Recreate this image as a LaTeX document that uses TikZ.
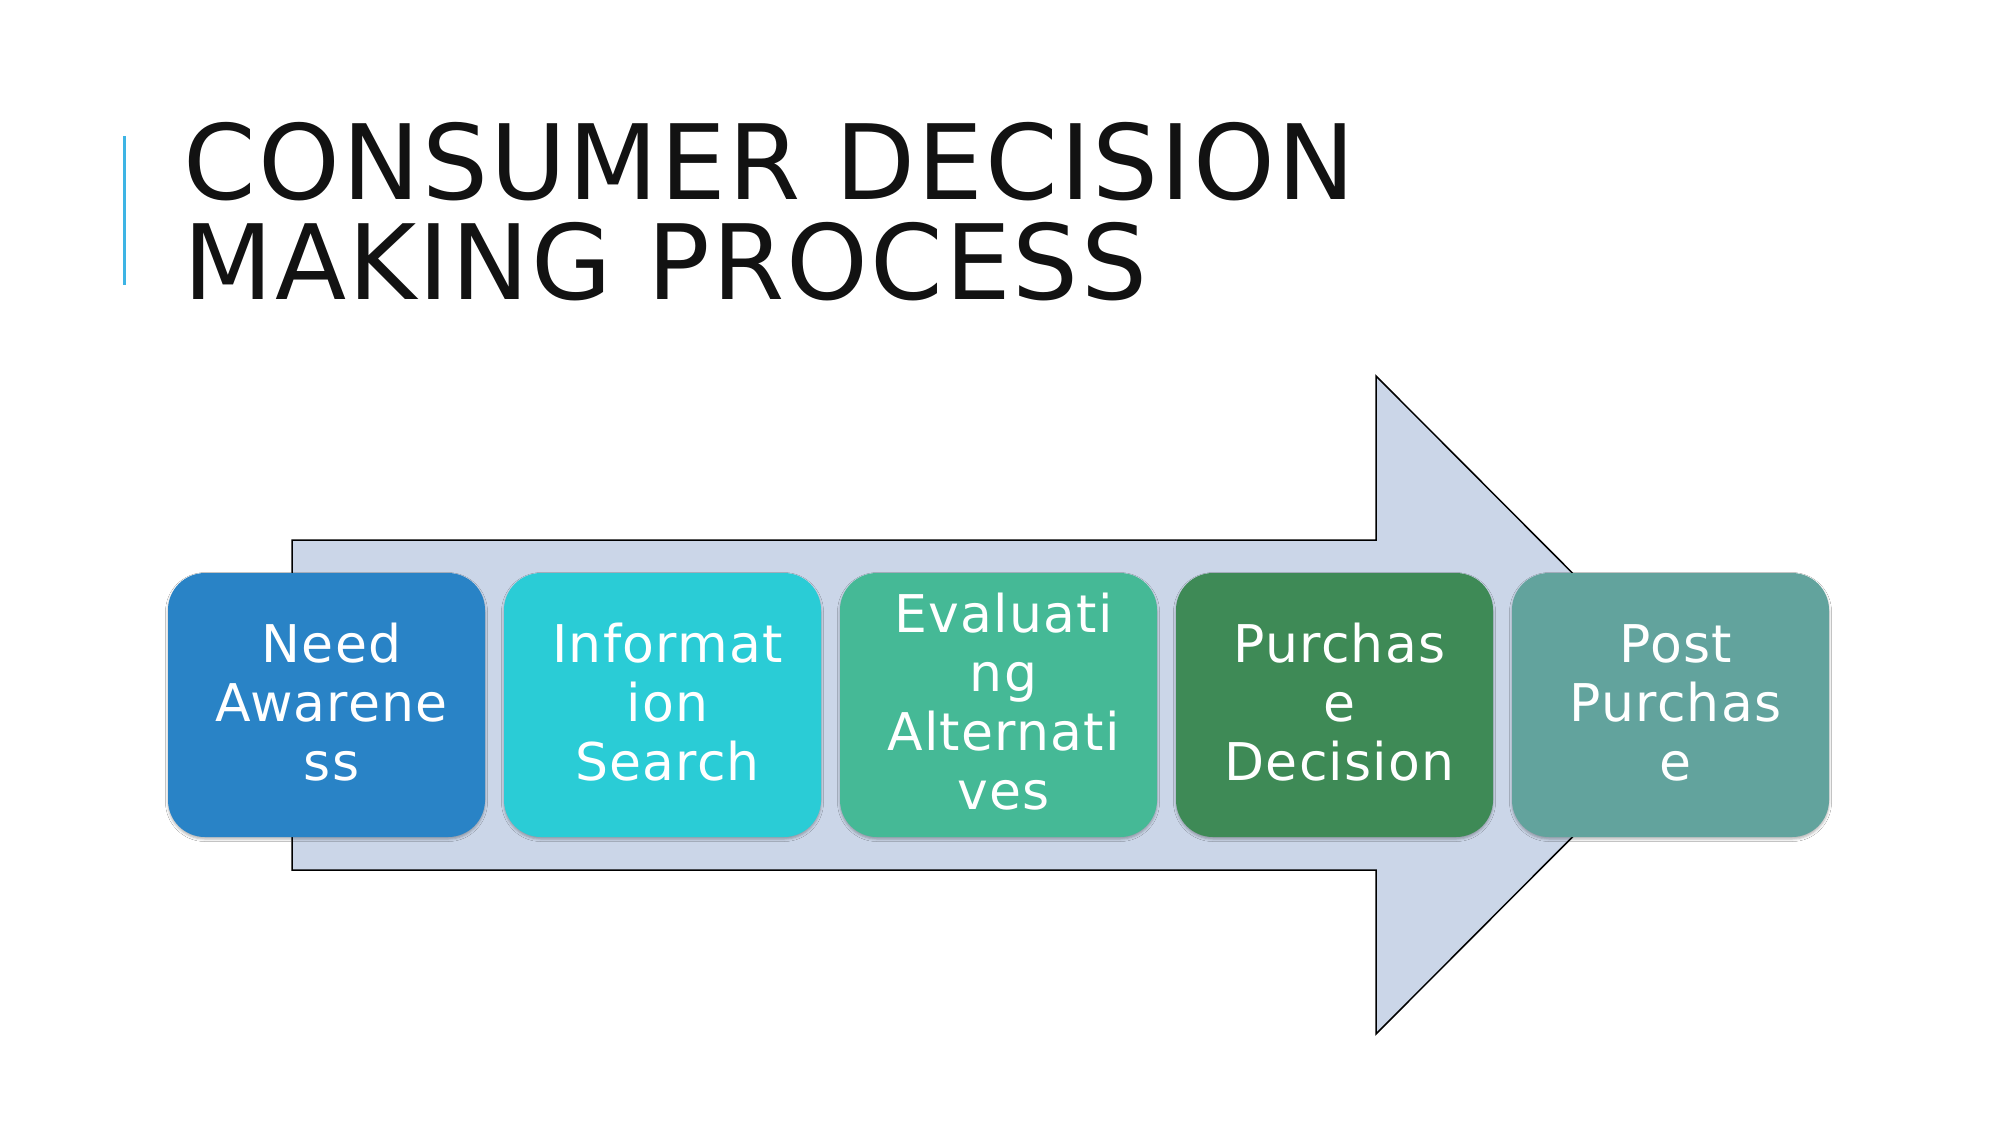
\documentclass[tikz,border=0pt]{standalone}
\usepackage{fontspec}
\setmainfont{DejaVu Sans}
\newfontfamily\titlefont[LetterSpace=2.0]{DejaVu Sans}
\newfontfamily\stagefont[LetterSpace=2.3]{DejaVu Sans}
\usetikzlibrary{shadows.blur}
\definecolor{arrowfill}{RGB}{203,214,232}
\definecolor{titlecol}{RGB}{18,18,18}
\definecolor{barcol}{RGB}{62,180,228}
\definecolor{cA}{RGB}{41,131,198}
\definecolor{cB}{RGB}{42,204,214}
\definecolor{cC}{RGB}{69,185,150}
\definecolor{cD}{RGB}{62,138,86}
\definecolor{cE}{RGB}{98,163,157}
\tikzset{
  bigarrow/.style={fill=arrowfill, draw=black, line width=1.5pt, line join=miter},
  stagebox/.style={rectangle, rounded corners=37pt, minimum width=317pt, minimum height=264pt,
    inner sep=0pt, draw=none,
    blur shadow={shadow xshift=0pt, shadow yshift=-2pt, shadow blur radius=2.5pt, shadow opacity=30}},
  stagetext/.style={inner sep=0pt, align=center, text=white,
    font=\stagefont\fontsize{52}{59}\selectfont},
  titletext/.style={inner sep=0pt, anchor=north west, align=left, text=titlecol,
    font=\titlefont\fontsize{104}{100}\selectfont},
  titlebar/.style={draw=barcol, line width=2.7pt}
}
\newcommand{\topstrut}{\rule{0pt}{44pt}}
\newcommand{\botstrut}{\rule[-12pt]{0pt}{12pt}}
\begin{document}
\begin{tikzpicture}[x=1pt,y=-1pt]
\useasboundingbox[fill=white] (0,0) rectangle (2001,1125);
% title
\draw[titlebar] (124.5,136) -- (124.5,285);
\node[titletext] (title) at (183.5,119) {\rule{0pt}{80pt}CONSUMER DECISION\\MAKING PROCESS};
% big arrow
\draw[bigarrow] (292,540) -- (1376,540) -- (1376,376) -- (1704,705) -- (1376,1034) -- (1376,870) -- (292,870) -- cycle;
% stages
\node[stagebox, fill=cA] (b1) at (326.5,705) {};
\node[stagebox, fill=cB] (b2) at (662.5,705) {};
\node[stagebox, fill=cC] (b3) at (998.5,705) {};
\node[stagebox, fill=cD] (b4) at (1334.5,705) {};
\node[stagebox, fill=cE] (b5) at (1670.5,705) {};
\node[stagetext] (t1) at ([xshift=5pt]b1.center) {\topstrut Need\\Awarene\\ss\botstrut};
\node[stagetext] (t2) at ([xshift=5pt]b2.center) {\topstrut Informat\\ion\\Search\botstrut};
\node[stagetext] (t3) at ([xshift=5pt]b3.center) {\topstrut Evaluati\\ng\\Alternati\\ves\botstrut};
\node[stagetext] (t4) at ([xshift=5pt]b4.center) {\topstrut Purchas\\e\\Decision\botstrut};
\node[stagetext] (t5) at ([xshift=5pt]b5.center) {\topstrut Post\\Purchas\\e\botstrut};
\end{tikzpicture}
\end{document}
